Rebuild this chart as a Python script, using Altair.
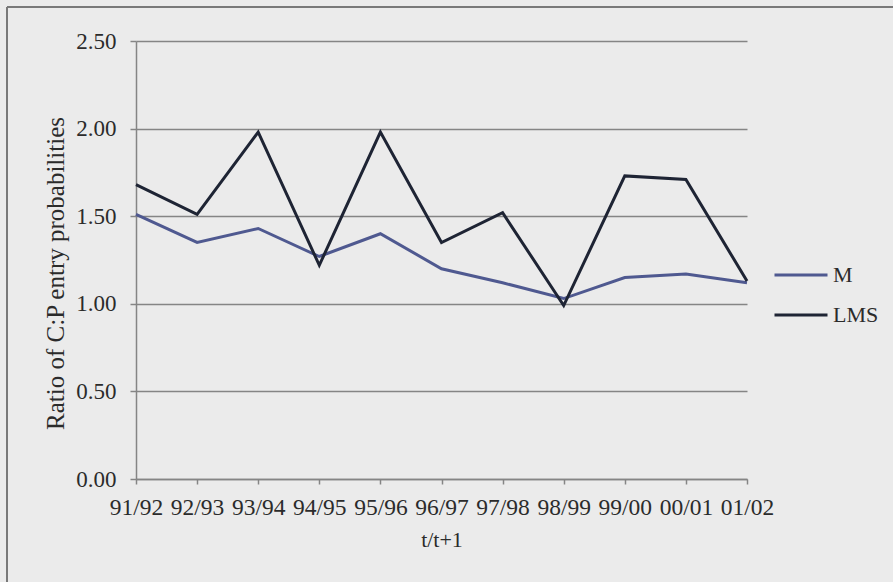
import altair as alt
import pandas as pd

# Academic-year transitions on the x axis
periods = ["91/92", "92/93", "93/94", "94/95", "95/96", "96/97",
           "97/98", "98/99", "99/00", "00/01", "01/02"]

# Ratio of C:P entry probabilities for each series
m_ratio = [1.51, 1.35, 1.43, 1.27, 1.40, 1.20, 1.12, 1.03, 1.15, 1.17, 1.12]
lms_ratio = [1.68, 1.51, 1.98, 1.22, 1.98, 1.35, 1.52, 0.99, 1.73, 1.71, 1.13]

series_names = ["M", "LMS"]
series_colors = ["#4f5990", "#1e2434"]
y_ticks = [0.0, 0.5, 1.0, 1.5, 2.0, 2.5]

df = pd.DataFrame({
    "period": periods * 2,
    "ratio": m_ratio + lms_ratio,
    "series": ["M"] * len(periods) + ["LMS"] * len(periods),
})

FONT = "Liberation Serif"
TEXT = "#2b2b2b"
GRID = "#858585"

W, H = 611, 438
PAD_L, PAD_T = 136, 41

lines = alt.Chart(df).mark_line(strokeWidth=3, strokeJoin="miter").encode(
    x=alt.X("period:N", sort=periods,
            scale=alt.Scale(type="point", padding=0),
            axis=alt.Axis(title="t/t+1", labelAngle=0, grid=False,
                          labelFontSize=23.5, titleFontSize=22,
                          domainColor=GRID, domainWidth=1.5,
                          tickColor=GRID, tickWidth=1.5, tickSize=5,
                          labelPadding=11, titleY=60, titleBaseline="middle")),
    y=alt.Y("ratio:Q",
            scale=alt.Scale(domain=[0, 2.5], nice=False, zero=True),
            axis=alt.Axis(title="Ratio of C:P entry probabilities",
                          values=y_ticks, format=".2f",
                          labelFontSize=23, titleFontSize=25,
                          grid=True, gridColor=GRID, gridWidth=1.5,
                          domainColor=GRID, domainWidth=1.5,
                          tickColor=GRID, tickWidth=1.5, tickSize=6,
                          labelPadding=14, titleX=-81, titleY=232,
                          titleBaseline="middle")),
    color=alt.Color("series:N", sort=series_names,
                    scale=alt.Scale(domain=series_names, range=series_colors),
                    legend=alt.Legend(title=None, orient="none",
                                      legendX=637, legendY=224,
                                      symbolType="stroke", symbolSize=2809,
                                      symbolStrokeWidth=3, clipHeight=20,
                                      rowPadding=18, labelOffset=4,
                                      labelFont=FONT, labelFontSize=22,
                                      labelColor=TEXT)),
)

# Outer frame around the chart (left and top edges fall inside the view)
frame_left = alt.Chart(df).mark_rule(color="#7a7a7a", strokeWidth=1.5).encode(
    x=alt.value(7 - PAD_L), y=alt.value(7 - PAD_T), y2=alt.value(700))
frame_top = alt.Chart(df).mark_rule(color="#7a7a7a", strokeWidth=1.5).encode(
    y=alt.value(7 - PAD_T), x=alt.value(7 - PAD_L), x2=alt.value(1000))

chart = alt.layer(frame_left, frame_top, lines).properties(
    width=W, height=H,
    autosize=alt.AutoSizeParams(type="none"),
    padding={"left": PAD_L, "top": PAD_T, "right": 893 - PAD_L - W,
             "bottom": 582 - PAD_T - H},
    background="#ebebeb",
).configure_view(stroke=None).configure_axis(
    labelFont=FONT, labelColor=TEXT,
    titleFont=FONT, titleColor=TEXT, titleFontWeight="normal",
)

chart.save("out.html", embed_options={"renderer": "svg", "actions": False})
